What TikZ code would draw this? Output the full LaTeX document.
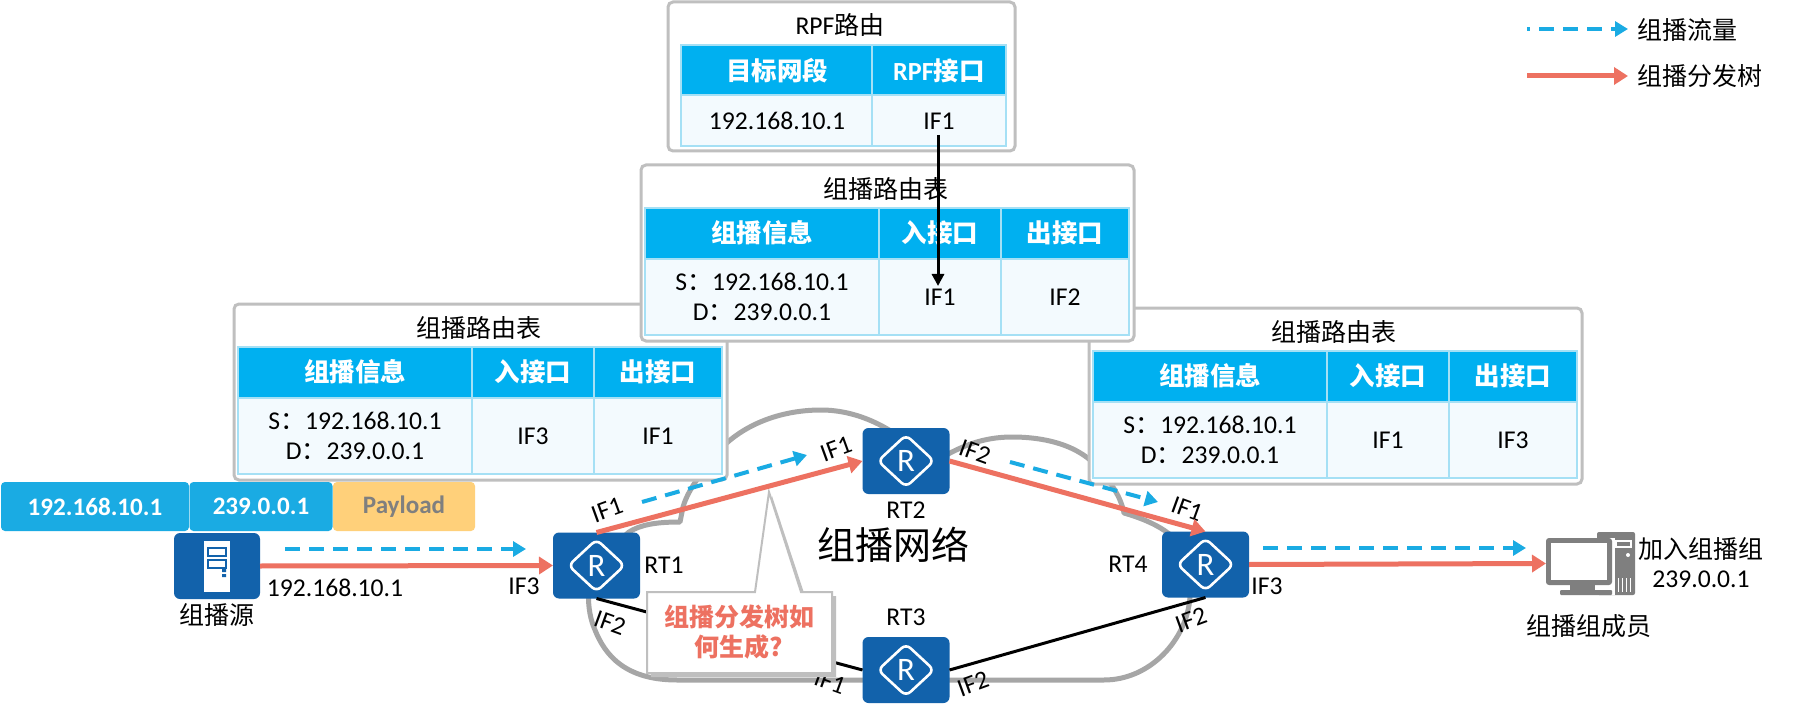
\documentclass[tikz,border=0pt]{standalone}
\usepackage{fontspec}
\setmainfont[Scale=1.025]{Carlito}
\newfontfamily\cjk{Noto Sans CJK SC}
\usetikzlibrary{arrows.meta}
\newcommand\zh[1]{{\cjk #1}}
\newcommand\fs[1]{\fontsize{#1}{#1}\selectfont}
\definecolor{rtblue}{HTML}{1262AB}
\definecolor{hdrblue}{HTML}{00B0F0}
\definecolor{cellbg}{HTML}{F3FAFE}
\definecolor{cellln}{HTML}{A5E0F5}
\definecolor{boxgray}{HTML}{BFBFBF}
\definecolor{cloudgray}{HTML}{A6A6A6}
\definecolor{flow}{HTML}{1AABE3}
\definecolor{tree}{HTML}{ED7161}
\definecolor{pay}{HTML}{FFD07A}
\definecolor{pcgray}{HTML}{7F7F7F}
\tikzset{
  x=1pt,y=-1pt,
  txt/.style={inner sep=0,outer sep=0,font=\fs{25},align=center,text=black},
  iflabel/.style={txt},
  hdr/.style={inner sep=0,outer sep=0,font=\fs{25.5}\bfseries,text=white,align=center},
  boxline/.style={draw=boxgray,line width=3pt,fill=white,rounded corners=5pt},
  router/.style={rectangle,rounded corners=6pt,fill=rtblue,minimum width=87pt,minimum height=66pt,
    inner sep=0,outer sep=0,text=white,font=\fs{32},
    path picture={\draw[white,line width=2.6pt] (path picture bounding box.center) ++(-28,0) -- ++(28,-26) -- ++(28,26) -- ++(-28,26) -- cycle;}},
  pkt/.style={rectangle,rounded corners=4pt,inner sep=0,outer sep=0,minimum height=49pt,font=\fs{24.5}\bfseries},
  treeln/.style={tree,line width=5pt,-{Triangle[length=14pt,width=17pt]}},
  flowln/.style={flow,line width=4pt,dash pattern=on 15pt off 9pt,-{Triangle[length=13pt,width=15pt]}},
  blackln/.style={black,line width=3pt},
  hdrcell/.style={fill=hdrblue,draw=cellln,line width=2pt},
  bodycell/.style={fill=cellbg,draw=cellln,line width=2pt},
}
% routing table with three columns; origin is the top-left corner of the box
\newcommand\rtbl[3]{%
  \draw[boxline] (0,0) rectangle (493,176);
  \node[txt] (#1t) at (245,24) {\zh{组播路由表}};
  \draw[hdrcell] (4,43) rectangle (238,94);
  \draw[hdrcell] (238,43) rectangle (360,94);
  \draw[hdrcell] (360,43) rectangle (488,94);
  \draw[bodycell] (4,94) rectangle (238,170);
  \draw[bodycell] (238,94) rectangle (360,170);
  \draw[bodycell] (360,94) rectangle (488,170);
  \node[hdr] (#1a) at (121,68) {\zh{组播信息}};
  \node[hdr] (#1b) at (299,68) {\zh{入接口}};
  \node[hdr] (#1c) at (424,68) {\zh{出接口}};
  \node[txt] (#1s) at (121,117) {S\zh{：}192.168.10.1};
  \node[txt] (#1d) at (121,147) {D\zh{：}239.0.0.1};
  \node[txt] (#1i) at (299,132) {#2};
  \node[txt] (#1o) at (424,132) {#3};
}
\begin{document}
\begin{tikzpicture}
\useasboundingbox (0,0) rectangle (1800,722);
\fill[white] (0,0) rectangle (1800,722);
% cloud
\draw[cloudgray,line width=5pt,line join=round,fill=white]
  (597,560) .. controls (586,580) and (586,610) .. (595,630)
  .. controls (605,655) and (625,680) .. (677,680)
  -- (1104,680) .. controls (1150,680) and (1187,640) .. (1190,597)
  -- (1190,560) .. controls (1180,540) and (1165,525) .. (1124,513)
  .. controls (1120,495) and (1112,485) .. (1100,470)
  .. controls (1080,445) and (1045,437) .. (1012,437)
  .. controls (985,437) and (960,445) .. (930,465)
  .. controls (900,430) and (860,410) .. (821,410)
  .. controls (780,410) and (740,425) .. (715,455)
  .. controls (700,475) and (688,490) .. (683,507)
  -- (680,522) .. controls (655,522) and (640,525) .. (629,532)
  -- (597,560) -- cycle;
% tables
\begin{scope}[shift={(234,304)}] \rtbl{l}{IF3}{IF1} \end{scope}
\begin{scope}[shift={(1089,308)}] \rtbl{r}{IF1}{IF3} \end{scope}
\begin{scope}[shift={(641,165)}] \rtbl{m}{IF1}{IF2} \end{scope}
% RPF table
\draw[boxline] (668,2) rectangle (1015,151);
\node[txt] (rpft) at (840,25) {RPF\zh{路由}};
\draw[hdrcell] (681,45) rectangle (872,95);
\draw[hdrcell] (872,45) rectangle (1006,95);
\draw[bodycell] (681,95) rectangle (872,146);
\draw[bodycell] (872,95) rectangle (1006,146);
\node[hdr] (rpfa) at (777,71) {\zh{目标网段}};
\node[hdr] (rpfb) at (939,71) {RPF\zh{接口}};
\node[txt] (rpfc) at (777,121) {192.168.10.1};
\node[txt] (rpfd) at (939,121) {IF1};
\coordinate (rpfs) at (938,135);
\coordinate (rpfe) at (938,286);
\draw[black,line width=3pt,-{Triangle[length=12pt,width=12pt]}] (rpfs) -- (rpfe);
% packet
\node[pkt,fill=flow,text=white,minimum width=188pt] (p1) at (95,506.5) {192.168.10.1};
\node[pkt,fill=flow,text=white,minimum width=143pt] (p2) at (261,506.5) {239.0.0.1};
\node[pkt,fill=pay,text=pcgray,minimum width=142pt] (p3) at (404,506.5) {Payload};
% devices
\node[rectangle,rounded corners=6pt,fill=rtblue,minimum width=86pt,minimum height=66pt,inner sep=0,outer sep=0] (src) at (217,566) {};
\fill[white] (204,541) rectangle (230,592);
\draw[rtblue,line width=2pt] (208,548) rectangle (226,556) (208,560) rectangle (226,568);
\fill[rtblue] (222,569) rectangle (226,572) (222,574) rectangle (226,577);
\node[txt] (srcl) at (217,615) {\zh{组播源}};
\node[router] (rt1) at (596.5,565.5) {R};
\node[router] (rt2) at (906,461) {R};
\node[router] (rt3) at (906,670) {R};
\node[router] (rt4) at (1205.5,564.5) {R};
\node[txt] (rt1l) at (664,565) {RT1};
\node[txt] (rt2l) at (906,510) {RT2};
\node[txt] (rt3l) at (906,617) {RT3};
\node[txt] (rt4l) at (1128,564) {RT4};
% pc
\node[inner sep=0,outer sep=0,minimum width=89pt,minimum height=63pt] (pc) at (1590.5,563.5) {};
\fill[pcgray,rounded corners=2pt] (1597,532) rectangle (1635,595);
\fill[white] (1615,540) rectangle (1632,548);
\fill[pcgray] (1617,542) rectangle (1630,546);
\fill[white] (1628,555) circle (2);
\draw[white,line width=0.8pt] (1618,578) -- (1618,592) (1622,578) -- (1622,592) (1626,578) -- (1626,592) (1630,578) -- (1630,592);
\fill[white] (1597,538) rectangle (1615,595);
\fill[pcgray,rounded corners=3pt] (1546,538) rectangle (1612,585);
\fill[white] (1551,543) rectangle (1607,580);
\fill[pcgray] (1570,585) rectangle (1595,590);
\fill[pcgray,rounded corners=1pt] (1560,590) rectangle (1612,595);
\node[txt] (pcj) at (1701,549) {\zh{加入组播组}};
\node[txt] (pcg) at (1701,579) {239.0.0.1};
\node[txt] (pcm) at (1589,626) {\zh{组播组成员}};
% black links
\draw[blackln] (rt1.south) -- (rt3.west);
\draw[blackln] (rt3.east) -- (rt4.south);
% interface labels
\node[iflabel] (i1) at (607,510) [rotate=20] {IF1};
\node[iflabel] (i2) at (524,586) {IF3};
\node[iflabel] (i3) at (610,623) [rotate=-20] {IF2};
\node[iflabel] (i4) at (836,449) [rotate=20] {IF1};
\node[iflabel] (i5) at (975,452) [rotate=-20] {IF2};
\node[iflabel] (i6) at (1187,509) [rotate=-20] {IF1};
\node[iflabel] (i7) at (1267,586) {IF3};
\node[iflabel] (i8) at (1191,620) [rotate=20] {IF2};
\node[iflabel] (i9) at (973,684) [rotate=20] {IF2};
\node[iflabel] (i10) at (830,682) [rotate=-20] {IF1};
\node[txt] (srcip) at (335,588) {192.168.10.1};
\node[txt,font=\fs{38}] (net) at (893,545) {\zh{组播网络}};
% callout
\fill[boxgray] (650,596) -- (759,596) -- (772,496) -- (805,596) -- (836,596) -- (836,677) -- (651,677) -- cycle;
\draw[boxgray,line width=2pt,fill=white] (647,592) -- (755,592) -- (769,492) -- (801,592) -- (832,592) -- (832,673) -- (647,673) -- cycle;
\node[txt,font=\fs{25}\bfseries,text=tree] (cl) at (739,632) {\zh{组播分发树如}\\[5pt]\zh{何生成?}};
% tree links
\draw[treeln] (src.east) -- (rt1.west);
\draw[treeln] (rt1.north) -- (rt2.west);
\draw[treeln] (rt2.east) -- (rt4.north);
\draw[treeln] (rt4.east) -- (pc.west);
% flow links
\coordinate (fa) at (285,549); \coordinate (fb) at (526,549);
\coordinate (fc) at (642,502); \coordinate (fd) at (807,455);
\coordinate (fe) at (1010,462); \coordinate (ff) at (1158,502);
\coordinate (fg) at (1263,548); \coordinate (fh) at (1526,548);
\draw[flowln] (fa) -- (fb);
\draw[flowln] (fc) -- (fd);
\draw[flowln] (fe) -- (ff);
\draw[flowln] (fg) -- (fh);
% legend
\coordinate (la) at (1527,29); \coordinate (lb) at (1628,29);
\coordinate (lc) at (1527,76); \coordinate (ld) at (1628,76);
\draw[flowln,dash phase=12pt] (la) -- (lb);
\draw[treeln] (lc) -- (ld);
\node[txt,anchor=west] (l1) at (1637,30) {\zh{组播流量}};
\node[txt,anchor=west] (l2) at (1637,76) {\zh{组播分发树}};
\end{tikzpicture}
\end{document}
